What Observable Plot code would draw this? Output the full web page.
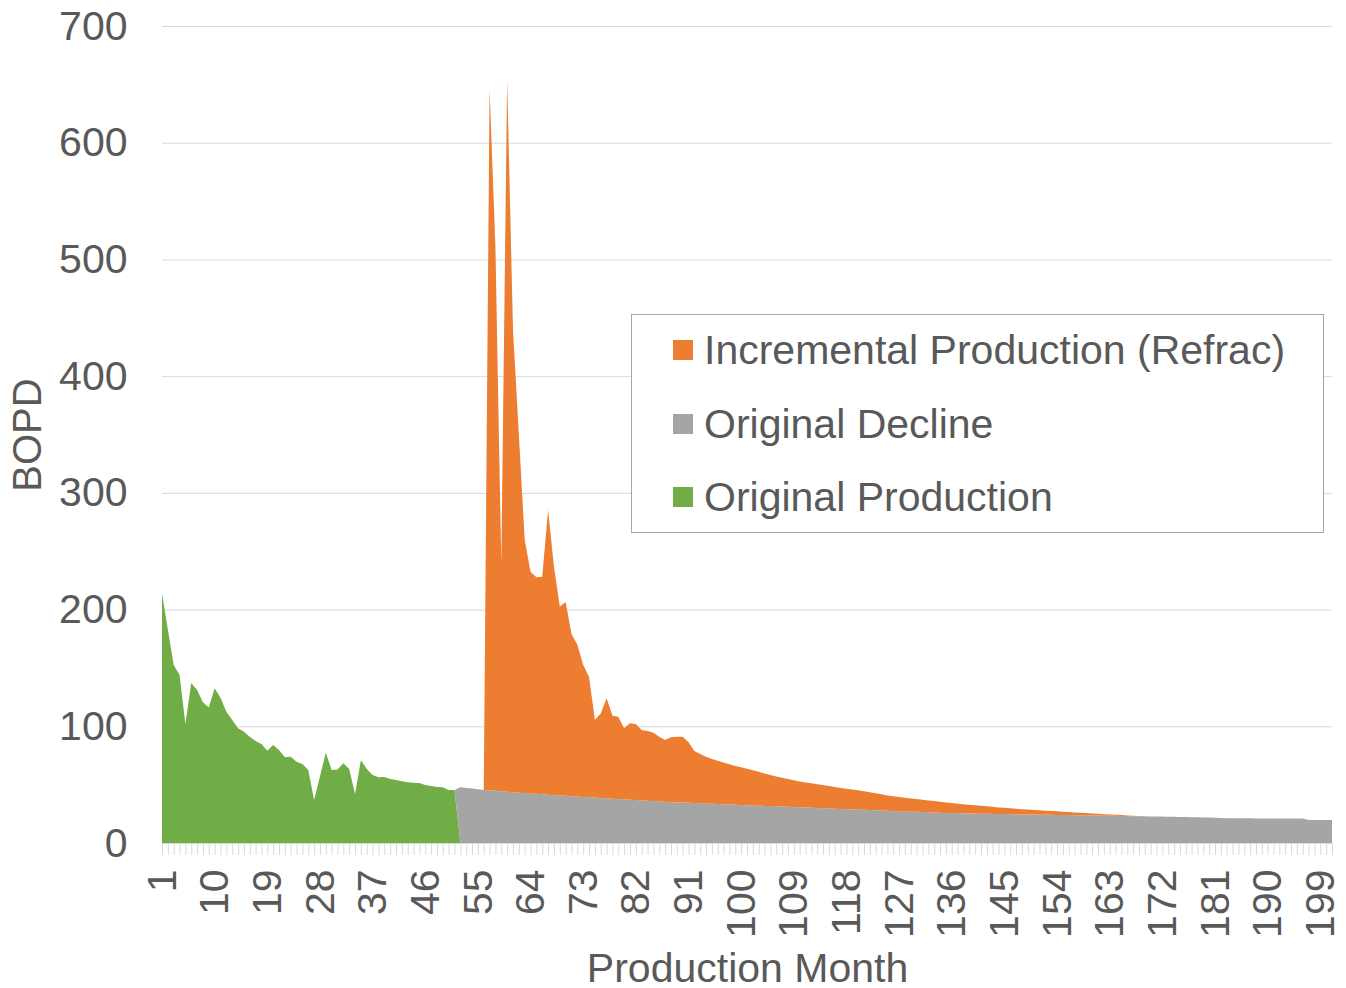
<!DOCTYPE html>
<html>
<head>
<meta charset="utf-8">
<script src="https://cdn.jsdelivr.net/npm/d3@7"></script>
<script src="https://cdn.jsdelivr.net/npm/@observablehq/plot@0.6"></script>
<style>
  html, body { margin: 0; padding: 0; background: #fff; }
  #wrap { position: relative; width: 1346px; height: 988px; font-family: "Liberation Sans", Arial, sans-serif; color: #595959; }
  #legend { position: absolute; left: 631px; top: 314px; width: 693px; height: 219px; background: #fff; border: 1px solid #a6a6a6; box-sizing: border-box; }
  .item { position: absolute; left: 41px; height: 48px; display: flex; align-items: center; font-size: 41px; white-space: nowrap; }
  .sw { width: 20px; height: 20px; margin-right: 11px; }
</style>
</head>
<body>
<div id="wrap"></div>
<script>
// Series names (stack order: bottom to top)
const seriesNames = ["Original Production", "Original Decline", "Incremental Production (Refrac)"];
const seriesColors = ["#70AD47", "#A5A5A5", "#ED7D31"];
const lastMonth = 201;

// Original Production, months 1..51 (BOPD)
const originalProductionStart = 1;
const originalProduction = [
  214, 183, 152.5, 144, 102, 137, 131, 120.5, 116, 132.5,
  124.5, 112.5, 105.4, 98.3, 95.4, 91, 87.4, 84.8, 79, 84,
  79.7, 73.4, 74, 69.7, 67.7, 62.5, 36.8, 57, 77.4, 62.5,
  63, 68.3, 63.4, 42, 71, 63.4, 58.3, 56.3, 56.5, 54.8,
  54, 53, 52, 51.7, 51.4, 49.7, 48.8, 48, 47.7, 45.4,
  45.4
];

// Original Decline, months 52..201 (BOPD)
const originalDeclineStart = 52;
const originalDecline = [
  47.7, 47.1, 46.6, 46.0, 45.5, 45.1, 44.7, 44.3, 43.9, 43.5,
  43.1, 42.8, 42.4, 42.1, 41.7, 41.4, 41.0, 40.7, 40.4, 40.1,
  39.8, 39.5, 39.2, 38.9, 38.6, 38.3, 38.0, 37.7, 37.4, 37.1,
  36.8, 36.5, 36.2, 35.9, 35.6, 35.3, 35.0, 34.8, 34.6, 34.4,
  34.2, 34.0, 33.8, 33.6, 33.4, 33.2, 33.0, 32.8, 32.6, 32.4,
  32.2, 32.0, 31.8, 31.6, 31.4, 31.2, 31.0, 30.8, 30.6, 30.4,
  30.2, 30.0, 29.8, 29.6, 29.4, 29.2, 29.0, 28.8, 28.6, 28.4,
  28.2, 28.0, 27.8, 27.6, 27.4, 27.2, 27.0, 26.8, 26.7, 26.5,
  26.3, 26.1, 25.9, 25.8, 25.6, 25.5, 25.4, 25.3, 25.2, 25.1,
  25.0, 24.9, 24.8, 24.8, 24.7, 24.6, 24.5, 24.4, 24.4, 24.3,
  24.2, 24.1, 24.0, 24.0, 23.9, 23.8, 23.7, 23.7, 23.6, 23.5,
  23.4, 23.4, 23.3, 23.2, 23.1, 23.0, 22.9, 22.8, 22.7, 22.6,
  22.6, 22.5, 22.4, 22.3, 22.2, 22.1, 22.0, 21.9, 21.8, 21.7,
  21.5, 21.3, 21.1, 21.1, 21.1, 21.1, 21.0, 21.0, 21.0, 21.0,
  21.0, 21.0, 20.9, 20.9, 20.9, 19.8, 19.8, 19.8, 19.7, 19.7
];

// Incremental Production (Refrac), months 56..170 (BOPD); zero afterwards
const incrementalStart = 56;
const incremental = [
  0, 601, 465, 195, 610, 396, 307, 217, 190, 185.5,
  186.5, 244, 196, 162, 166, 139, 130, 113, 103, 66.5,
  72.4, 85.7, 71, 70.5, 61, 65.5, 65.2, 60.3, 59.8, 58.6,
  55.4, 53, 55.5, 56.2, 56.4, 51.9, 44.6, 42.3, 40.2, 38.4,
  37.1, 35.8, 34.4, 33.2, 32.4, 31.2, 30.1, 29.0, 27.7, 26.6,
  25.6, 24.6, 23.8, 23.0, 22.2, 21.5, 20.9, 20.4, 19.8, 19.2,
  18.6, 18.0, 17.5, 17.1, 16.7, 16.0, 15.3, 14.6, 13.9, 13.2,
  12.6, 12.2, 11.8, 11.4, 10.9, 10.5, 10.2, 9.9, 9.5, 9.0,
  8.6, 8.2, 7.8, 7.5, 7.1, 6.8, 6.4, 6.1, 5.7, 5.3,
  5.0, 4.7, 4.5, 4.2, 3.9, 3.7, 3.5, 3.3, 3.1, 2.8,
  2.6, 2.4, 2.2, 1.9, 1.7, 1.5, 1.3, 1.1, 0.9, 0.7,
  0.5, 0.4, 0.3, 0.2, 0.1
];

const xTickLabels = [1, 10, 19, 28, 37, 46, 55, 64, 73, 82, 91, 100, 109, 118, 127, 136, 145, 154, 163, 172, 181, 190, 199];
const yTickLabels = [0, 100, 200, 300, 400, 500, 600, 700];
const yAxisTitle = "BOPD";
const xAxisTitle = "Production Month";

// Build long table: every month has a value for every series (0 outside the series' span)
const months = d3.range(1, lastMonth + 1);
const valueAt = (arr, start, m) => (m >= start && m < start + arr.length) ? arr[m - start] : 0;
const table = [];
for (const m of months) {
  table.push({month: m, series: seriesNames[0], value: valueAt(originalProduction, originalProductionStart, m)});
  table.push({month: m, series: seriesNames[1], value: valueAt(originalDecline, originalDeclineStart, m)});
  table.push({month: m, series: seriesNames[2], value: valueAt(incremental, incrementalStart, m)});
}

const font = "Liberation Sans, Arial, sans-serif";
const plot = Plot.plot({
  width: 1346,
  height: 988,
  marginLeft: 162,
  marginRight: 14,
  marginTop: 26,
  marginBottom: 145,
  style: {fontFamily: font, color: "#595959", background: "#fff", overflow: "visible"},
  x: {type: "linear", domain: [1, lastMonth]},
  y: {domain: [0, 700]},
  color: {domain: seriesNames, range: seriesColors},
  marks: [
    Plot.gridY(yTickLabels.filter(d => d > 0), {stroke: "#d9d9d9", strokeOpacity: 1, strokeWidth: 1}),
    Plot.areaY(table, {x: "month", y: "value", fill: "series", order: seriesNames, curve: "linear"}),
    Plot.ruleY([0], {stroke: "#d9d9d9"}),
    Plot.axisX({ticks: months, tickSize: 12, tickFormat: () => "", stroke: "#d9d9d9", label: null}),
    Plot.axisX({ticks: xTickLabels, tickSize: 0, tickPadding: 26, tickRotate: -90, fontSize: 41, fill: "#595959", label: null, tickFormat: d => String(d)}),
    Plot.axisY({ticks: yTickLabels, tickSize: 0, tickPadding: 35, fontSize: 41, fill: "#595959", label: null}),
    Plot.text([yAxisTitle], {frameAnchor: "left", textAnchor: "middle", lineAnchor: "middle", dx: -134, rotate: -90, fontSize: 40, fill: "#595959", text: d => d}),
    Plot.text([xAxisTitle], {frameAnchor: "bottom", textAnchor: "middle", lineAnchor: "middle", dy: 125, fontSize: 41, fill: "#595959", text: d => d})
  ]
});

const wrap = document.getElementById("wrap");
wrap.appendChild(plot);

// Legend (Excel order: top of stack first)
const legend = document.createElement("div");
legend.id = "legend";
const legendTops = [11, 85, 158];
[2, 1, 0].forEach((idx, i) => {
  const item = document.createElement("div");
  item.className = "item";
  item.style.top = legendTops[i] + "px";
  const sw = document.createElement("span");
  sw.className = "sw";
  sw.style.background = seriesColors[idx];
  const t = document.createElement("span");
  t.textContent = seriesNames[idx];
  item.appendChild(sw);
  item.appendChild(t);
  legend.appendChild(item);
});
wrap.appendChild(legend);
</script>
</body>
</html>
